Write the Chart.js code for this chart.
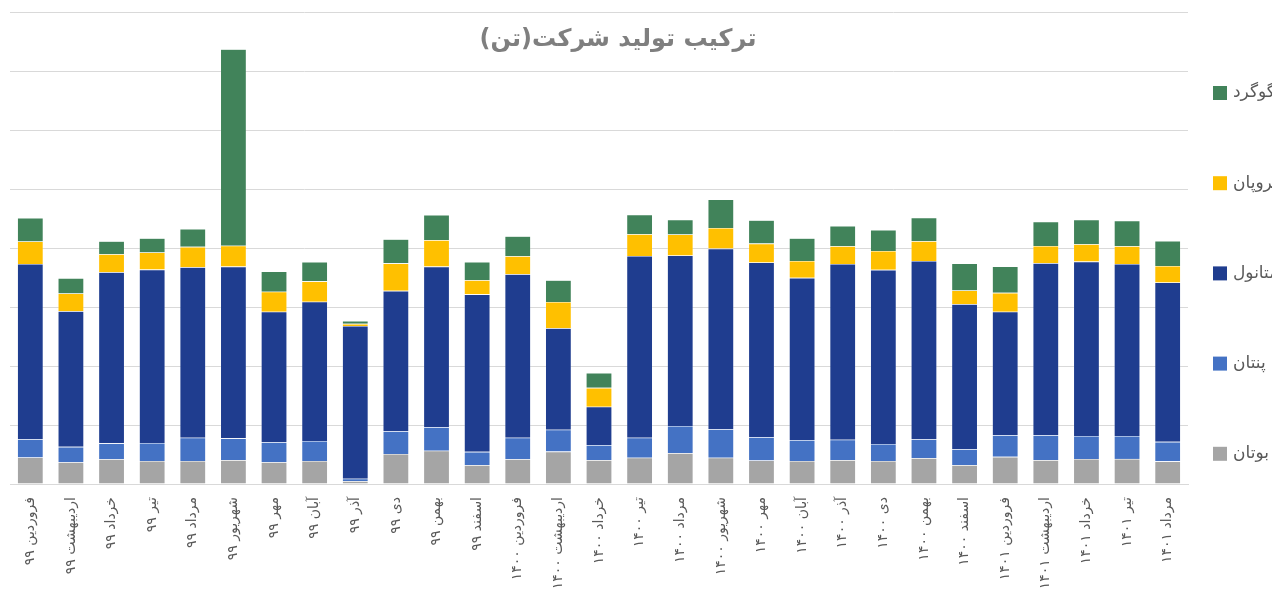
<!DOCTYPE html>
<html lang="fa">
<head>
<meta charset="utf-8">
<script src="https://cdn.jsdelivr.net/npm/chart.js@4"></script>
<style>
  html, body { margin: 0; padding: 0; background: #fff; overflow: hidden; }
  #wrap { position: relative; width: 1272px; height: 598px; }
</style>
</head>
<body>
<div id="wrap"><canvas id="prodChart"></canvas></div>
<script>
// categories (months)
const months = [
  'فروردین ۹۹', 'اردیبهشت ۹۹', 'خرداد ۹۹', 'تیر ۹۹', 'مرداد ۹۹', 'شهریور ۹۹',
  'مهر ۹۹', 'آبان ۹۹', 'آذر ۹۹', 'دی ۹۹', 'بهمن ۹۹', 'اسفند ۹۹',
  'فروردین ۱۴۰۰', 'اردیبهشت ۱۴۰۰', 'خرداد ۱۴۰۰', 'تیر ۱۴۰۰', 'مرداد ۱۴۰۰', 'شهریور ۱۴۰۰',
  'مهر ۱۴۰۰', 'آبان ۱۴۰۰', 'آذر ۱۴۰۰', 'دی ۱۴۰۰', 'بهمن ۱۴۰۰', 'اسفند ۱۴۰۰',
  'فروردین ۱۴۰۱', 'اردیبهشت ۱۴۰۱', 'خرداد ۱۴۰۱', 'تیر ۱۴۰۱', 'مرداد ۱۴۰۱'
];

// series values (thousand tonnes)
const butan = [4.5, 3.7, 4.2, 3.9, 3.9, 4.05, 3.7, 3.9, 0.5, 5.1, 5.65, 3.2, 4.2, 5.5, 4.05, 4.45, 5.25, 4.45, 4.0, 3.9, 4.05, 3.9, 4.4, 3.2, 4.6, 4.05, 4.25, 4.25, 3.85];
const pentan = [3.1, 2.6, 2.7, 3.05, 3.95, 3.7, 3.4, 3.4, 0.4, 3.85, 4.0, 2.25, 3.65, 3.7, 2.55, 3.4, 4.6, 4.85, 3.95, 3.55, 3.45, 2.9, 3.2, 2.7, 3.7, 4.25, 3.9, 3.9, 3.3];
const metanol = [29.7, 23.0, 29.0, 29.4, 28.9, 29.1, 22.1, 23.6, 25.9, 23.8, 27.2, 26.7, 27.7, 17.2, 6.5, 30.8, 28.9, 30.6, 29.6, 27.5, 29.8, 29.5, 30.2, 24.6, 20.9, 29.15, 29.55, 29.15, 27.0];
const propan = [3.8, 3.0, 3.05, 2.9, 3.45, 3.55, 3.4, 3.45, 0.35, 4.65, 4.5, 2.4, 3.05, 4.45, 3.2, 3.7, 3.55, 3.5, 3.2, 2.85, 3.0, 3.2, 3.35, 2.3, 3.2, 2.9, 2.95, 3.0, 2.8];
const gogerd = [4.0, 2.6, 2.2, 2.4, 3.05, 33.3, 3.45, 3.3, 0.5, 4.1, 4.25, 3.1, 3.4, 3.7, 2.55, 3.3, 2.5, 4.85, 3.95, 3.85, 3.45, 3.55, 4.0, 4.6, 4.5, 4.1, 4.15, 4.35, 4.25];

const seriesNames = ['بوتان', 'پنتان', 'متانول', 'پروپان', 'گوگرد'];
const chartTitle = 'ترکیب تولید شرکت(تن)';

const colors = {
  butan: '#A5A5A5',
  pentan: '#4472C4',
  metanol: '#1F3D8F',
  propan: '#FFC000',
  gogerd: '#41835A'
};

const textGray = '#595959';
const gridGray = '#D9D9D9';

function makeSet(label, data, color) {
  return {
    label: label,
    data: data,
    backgroundColor: color,
    borderColor: 'rgba(255,255,255,0.35)',
    borderWidth: 0.6,
    barPercentage: 0.64,
    categoryPercentage: 1
  };
}

// title + legend are drawn by hand so they sit where Excel put them
const overlayPlugin = {
  id: 'overlay',
  afterDraw(chart) {
    const ctx = chart.ctx;
    ctx.save();
    ctx.direction = 'rtl';
    ctx.fillStyle = '#7F7F7F';
    ctx.font = 'bold 24px "DejaVu Sans", sans-serif';
    ctx.textAlign = 'center';
    ctx.textBaseline = 'middle';
    ctx.fillText(chartTitle, 618, 40);

    // legend, top item is the last dataset
    const sets = chart.data.datasets;
    ctx.font = '17px "DejaVu Sans", sans-serif';
    ctx.textAlign = 'left';
    for (let i = 0; i < sets.length; i++) {
      const ds = sets[sets.length - 1 - i];
      const cy = 93 + i * 90.2;
      ctx.fillStyle = ds.backgroundColor;
      ctx.fillRect(1213, cy - 7, 14, 14);
      ctx.fillStyle = textGray;
      ctx.fillText(ds.label, 1233, cy);
    }
    ctx.restore();
  }
};

const ctx = document.getElementById('prodChart');
new Chart(ctx, {
  type: 'bar',
  data: {
    labels: months,
    datasets: [
      makeSet(seriesNames[0], butan, colors.butan),
      makeSet(seriesNames[1], pentan, colors.pentan),
      makeSet(seriesNames[2], metanol, colors.metanol),
      makeSet(seriesNames[3], propan, colors.propan),
      makeSet(seriesNames[4], gogerd, colors.gogerd)
    ]
  },
  options: {
    responsive: true,
    maintainAspectRatio: false,
    animation: false,
    layout: {
      padding: { left: 10, right: 84, top: 12, bottom: 0 }
    },
    plugins: {
      legend: { display: false },
      title: { display: false },
      tooltip: { enabled: false }
    },
    scales: {
      x: {
        stacked: true,
        grid: { display: false, drawTicks: false },
        border: { display: true, color: gridGray, width: 1 },
        ticks: {
          autoSkip: false,
          minRotation: 90,
          maxRotation: 90,
          padding: 13,
          color: textGray,
          font: { family: '"DejaVu Sans", sans-serif', size: 14 }
        },
        afterFit: (scale) => { scale.height = 114; }
      },
      y: {
        stacked: true,
        min: 0,
        max: 80,
        ticks: { display: false, stepSize: 10 },
        grid: { color: gridGray, lineWidth: 1, drawTicks: false },
        border: { display: false },
        afterFit: (scale) => { scale.width = 0; }
      }
    }
  },
  plugins: [overlayPlugin]
});
</script>
</body>
</html>
